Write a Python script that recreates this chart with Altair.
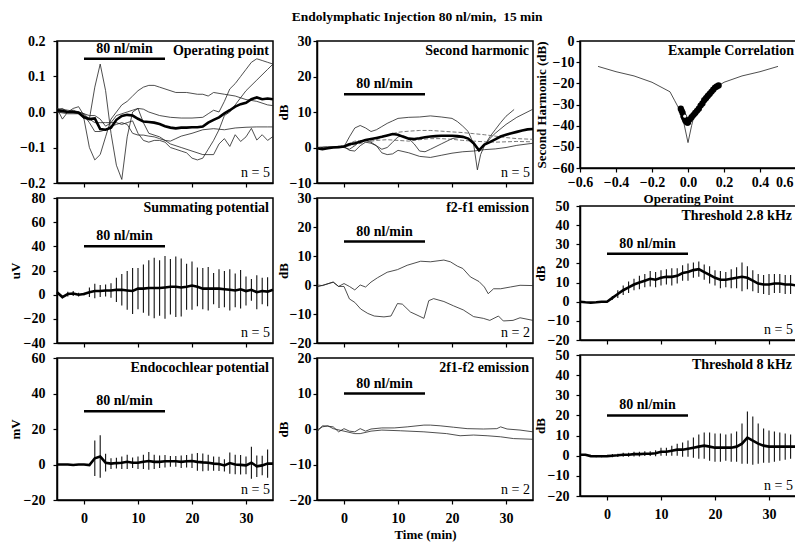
import altair as alt
import pandas as pd

FONT = "Liberation Serif"
PW = 216
LFS = 14   # tick label / annotation font size
TFS = 13   # axis title font size

TITLE = "Endolymphatic Injection 80 nl/min,\u00a0 15 min"
T = list(range(-5, 36))  # minutes

# ---------------- Operating point ----------------
op_mean = [0.005, 0.003, 0.0, 0.0, -0.002, -0.015, -0.02, -0.018, -0.048, -0.05, -0.044,
           -0.022, -0.011, -0.008, -0.01, -0.019, -0.027, -0.028, -0.03, -0.034, -0.04,
           -0.044, -0.046, -0.044, -0.044, -0.043, -0.043, -0.041, -0.03, -0.022, -0.015,
           -0.004, 0.005, 0.015, 0.022, 0.026, 0.036, 0.041, 0.036, 0.038, 0.036]
op_l1_t = [-5, -4, -3, -2, -1, 0, 1, 2, 3, 4, 5, 6, 7, 8, 9, 10, 11, 12, 14, 16, 18, 20, 22, 24,
           25, 26, 27, 28, 29, 30, 31, 32, 33, 34, 35]
op_l1_v = [0.01, -0.02, 0.0, 0.01, 0.015, -0.01, -0.02, 0.07, 0.135, 0.06, -0.06, -0.15, -0.19,
           -0.07, 0.0, 0.01, -0.03, -0.06, -0.07, -0.09, -0.1, -0.11, -0.12, -0.12, -0.09, -0.075,
           -0.097, -0.064, -0.083, -0.07, -0.046, -0.079, -0.064, -0.08, -0.069]
op_l2_t = [-5, -4, -3, -2, -1, 0, 1, 2, 3, 4, 5, 6, 7, 8, 9, 10, 11, 12, 13, 14, 15, 17, 19, 21,
           22, 23, 24, 26, 28, 30, 32, 34, 35]
op_l2_v = [0.005, 0.01, 0.0, 0.005, 0.0, -0.02, -0.1, -0.135, -0.12, -0.07, -0.02, 0.0, 0.02,
           0.03, 0.045, 0.06, 0.07, 0.075, 0.075, 0.07, 0.065, 0.055, 0.055, 0.05, 0.05, 0.045,
           0.055, 0.05, 0.045, 0.035, 0.03, 0.02, 0.018]
op_l3_t = [-5, -3, -1, 0, 1, 2, 3, 4, 5, 6, 7, 8, 9, 10, 11, 12, 14, 16, 18, 20, 22, 23, 24, 25,
           26, 27, 28, 29, 30, 31, 32, 33, 34, 35]
op_l3_v = [0.01, 0.005, 0.0, -0.005, -0.01, -0.01, -0.02, -0.04, -0.03, -0.01, -0.005, 0.0,
           0.005, 0.01, 0.008, 0.0, -0.01, -0.015, -0.017, -0.017, -0.015, -0.005, 0.005, 0.0,
           0.03, 0.065, 0.08, 0.1, 0.12, 0.14, 0.15, 0.145, 0.14, 0.135]
op_l4_t = [-5, -3, -1, 0, 1, 2, 3, 4, 5, 6, 7, 8, 9, 10, 11, 12, 13, 14, 15, 16, 17, 18, 20, 22,
           24, 26, 28, 30, 32, 34, 35]
op_l4_v = [0.0, -0.005, -0.005, -0.01, -0.03, -0.055, -0.055, -0.05, -0.04, -0.035, -0.03,
           -0.035, -0.06, -0.065, -0.065, -0.068, -0.07, -0.075, -0.08, -0.082, -0.075, -0.068,
           -0.06, -0.05, -0.047, -0.05, -0.045, -0.043, -0.042, -0.042, -0.042]
op_l5_t = [-5, -3, -1, 0, 1, 2, 3, 4, 5, 6, 7, 8, 9, 10, 11, 12, 13, 14, 15, 16, 17, 18, 19, 20,
           21, 22, 23, 24, 25, 26, 27, 28, 30, 32, 34, 35]
op_l5_v = [0.0, 0.0, 0.0, -0.005, -0.02, -0.03, -0.03, -0.03, -0.03, -0.03, -0.035, -0.03,
           -0.025, -0.06, -0.08, -0.085, -0.08, -0.08, -0.085, -0.1, -0.105, -0.11, -0.115,
           -0.13, -0.135, -0.13, -0.105, -0.08, -0.05, -0.01, 0.0, 0.02, 0.06, 0.09, 0.12, 0.135]

# ---------------- Second harmonic ----------------
sh_mean = [-0.2, -0.5, -0.2, 0.0, 0.1, 0.3, 0.9, 1.2, 1.6, 2.1, 2.4, 2.7, 3.0, 3.4, 3.8, 3.6,
           3.0, 2.5, 2.4, 2.6, 2.9, 3.1, 3.2, 3.3, 3.3, 3.3, 3.2, 3.0, 2.5, 1.2, -0.8, 0.8, 1.5,
           2.3, 3.1, 3.6, 4.0, 4.4, 4.8, 5.1, 5.2]
sh_s1_t = [-5, -3, -1, 0, 1, 2, 3, 4, 5, 6, 7, 8, 9, 10, 12, 14, 16, 18, 20, 21, 22, 23, 24,
           24.7, 25.3, 26, 27, 28, 29, 30, 31.5]
sh_s1_v = [0, 0.2, 0.3, 0.2, 3.0, 5.5, 6.2, 5.5, 4.5, 5.0, 5.9, 6.8, 7.5, 8.2, 8.5, 8.6, 8.9,
           8.6, 8.2, 7.3, 6.0, 4.5, 1.0, -6.3, -2.0, 0.5, 3.0, 5.0, 7.0, 8.8, 10.7]
sh_s2_t = [-5, -2, 0, 2, 4, 6, 8, 10, 12, 14, 16, 18, 20, 22, 24, 26, 28, 30, 32, 35]
sh_s2_v = [0, 0.2, 0.5, 1.8, 2.0, 2.2, 3.5, 4.3, 4.6, 4.8, 4.8, 4.6, 4.4, 4.2, 3.9, 3.6, 3.2,
           2.8, 2.5, 2.3]
sh_s3_t = [-5, -2, 0, 1, 2, 3, 4, 5, 6, 7, 8, 9, 10, 11, 12, 13, 14, 15, 16, 18, 20, 22, 23,
           24, 25, 26, 27, 28, 30, 32, 35]
sh_s3_v = [0, 0.1, 0, -0.5, 0.5, 1.8, 2.0, 1.5, 0.5, -0.5, 0.0, 1.5, 3.0, 3.3, 2.5, 1.0, -1.0,
           -1.2, -0.5, 1.0, 2.5, 3.0, 2.5, 1.0, -1.0, 0.5, 2.5, 4.0, 6.5, 8.5, 10.8]
sh_s4_t = [-5, -2, 0, 1, 2, 3, 4, 5, 6, 7, 8, 9, 10, 12, 14, 16, 18, 20, 22, 24, 26, 28, 30,
           32, 35]
sh_s4_v = [0, 0, 0.3, -0.8, -1.0, 0.5, 1.5, 1.2, 0.5, -1.5, -2.0, -1.8, -0.8, -1.5, -2.5, -2.8,
           -2.2, -1.6, -1.2, -1.0, -0.6, -0.4, 0.0, 0.6, 1.2]
sh_s5_t = [-5, -2, 0, 2, 4, 6, 8, 10, 12, 14, 16, 18, 20, 22, 24, 26, 28, 30, 32, 35]
sh_s5_v = [0, 0, 0.2, 0.8, 1.5, 2.0, 2.2, 2.0, 1.8, 2.2, 2.5, 2.5, 2.3, 2.0, 1.8, 1.6, 1.5,
           1.6, 1.7, 1.6]

# ---------------- Summating potential ----------------
sp_mean = [2, -2, 0.5, 1, 0, 0.5, 2, 3, 3, 3.5, 3.5, 4, 4, 3.5, 3, 5, 5, 5.5, 5.5, 5.5, 6, 6.5,
           6.5, 6, 6.5, 7.5, 6.5, 5, 5, 5, 5, 4.5, 4, 3.5, 4.5, 3, 4, 2, 3, 2.5, 4]
sp_sd = [0, 1, 2, 2, 1.5, 1, 4, 6, 5, 5, 6, 10, 13, 16, 19, 17, 20, 23, 25, 23, 26, 23, 25, 24,
         19, 20, 16, 17, 18, 13, 16, 15, 17, 14, 16, 12, 9, 14, 11, 12, 0]

# ---------------- Endocochlear potential ----------------
ep_mean = [0, 0, 0, -0.3, 0, 0, -0.3, 3.5, 4.5, 1, 0.5, 0.8, 1, 1.5, 1, 1, 1.5, 2, 1.5, 1.5,
           1.8, 1.8, 1.8, 1.5, 1.8, 2, 1.5, 1.2, 1, 0.5, 0.3, -0.5, 0.8, 0, -0.2, -0.5, 1, -1,
           -0.5, 0.5, 0.5]
ep_sd = [0, 0, 0, 0, 0, 0, 0.5, 10, 12, 5, 3, 3, 3.5, 4, 3, 3.5, 4, 5, 4, 3.5, 3.5, 3, 3, 3.5,
         3.5, 4, 5, 5, 4.5, 4, 4, 3.5, 6, 5.5, 5.5, 5, 9, 6, 5.5, 8, 0]

# ---------------- Threshold 2.8 kHz ----------------
t28_mean = [0, -0.3, -0.5, -0.3, 0, 0, 2, 4, 6, 7.5, 9, 10, 11, 12, 11.5, 12.5, 13, 13, 13.5,
            15, 15.5, 16.5, 17, 15.5, 14, 12.5, 11.5, 11.5, 12, 12.5, 13, 12.5, 11, 9.5, 9, 9,
            9.5, 9.5, 9, 9, 8.5]
t28_sd = [0, 0, 0, 0, 0, 0, 1, 2, 2.5, 3, 3, 3.5, 3.5, 4, 4, 4, 4, 4.5, 4, 4, 4.5, 4, 4, 4,
          4.5, 4, 4.5, 4, 5, 5.5, 7.5, 6, 5.5, 5, 5, 5.5, 5, 5, 5, 5, 0]

# ---------------- Threshold 8 kHz ----------------
t8_mean = [0.5, 0.5, -0.2, -0.3, -0.3, -0.2, 0, 0.2, 0.5, 0.5, 0.8, 0.8, 1, 1, 1.2, 2, 2, 2.5,
           3, 3, 3.5, 4, 4.5, 5, 4.5, 4, 4, 4, 4, 4.5, 6, 9, 7.5, 6, 5, 4.5, 4.5, 4.5, 4.5, 4.5,
           4.5]
t8_sd = [0, 0, 0.5, 0.5, 0.5, 0.5, 0.8, 0.8, 1, 1, 1.2, 1.2, 1.2, 1.2, 1.5, 2, 2, 2.5, 3, 3.5,
         4, 5, 6, 6.5, 7, 7, 7, 6.5, 7, 7.5, 10, 13, 12, 10, 8.5, 8, 7.5, 7, 6.5, 6, 0]

# ---------------- f2-f1 emission ----------------
fa_t = [-5, -4, -2, -1, 0, 1, 2, 3, 4, 5, 6.2, 8, 9.9, 11.7, 14.2, 16, 18.5, 19.7, 21, 22, 23.4,
        25, 26, 26.7, 27.7, 29, 30.8, 32.6, 35]
fa_v = [0, -0.2, 1, -0.5, 0.5, -0.5, -1.7, 0, -0.7, 1, 2.5, 4.4, 5.3, 6.8, 8.2, 8, 8.6, 8, 6.5,
        5.7, 2.8, 1.2, -0.7, -3, -1.3, -1.3, -0.7, -0.1, -0.2]
fb_t = [-5, -2, -1, 0, 1, 2, 3.1, 4.4, 5.6, 7.4, 8.7, 9.9, 10.8, 12.3, 13.9, 14.8, 15.7, 16.6,
        18.5, 20.3, 22.1, 24, 25.8, 27, 28.6, 29.5, 31.3, 32.6, 35]
fb_v = [-0.7, 1, -0.5, -0.5, -4.8, -6, -8.3, -9.8, -10.7, -11, -10.7, -6.4, -6.6, -9.3, -10.7,
        -11.5, -5.4, -4.7, -5.7, -7.2, -8.6, -10.9, -11.5, -12.2, -10.7, -12.4, -12.2, -11.3,
        -12.2]

# ---------------- 2f1-f2 emission ----------------
da_t = [-5, -4, -3, -2, -1, 0, 1, 2, 3, 4, 5, 7, 9.3, 11.7, 14.8, 16, 17.8, 20.3, 22.8, 25.8,
        28.3, 29, 30.2, 32.6, 35]
da_v = [-0.8, 0.9, 0.8, 0.6, -0.8, 0.1, -0.6, -0.8, 0.1, -0.6, 0, 0.3, 0.3, 0.6, 1.1, 1.1, 0.9,
        0.5, 0.1, 0, 0.1, 0.6, 0, -0.3, -0.8]
db_t = [-5, -4, -3, -2, 0, 2, 3, 5, 7, 10.5, 14.8, 19, 21.5, 24, 26.5, 29, 31.4, 35]
db_v = [-0.3, 0.6, 0.9, 0.1, -0.6, -1.3, -1.3, -0.6, -0.3, -0.5, -0.8, -1.3, -1.9, -1.7, -1.9,
        -2.2, -2.7, -2.9]

# ---------------- Example correlation ----------------
cor_thin_x = [-0.5, -0.4, -0.3, -0.2, -0.1, -0.075, -0.05, -0.03, 0.0, 0.02, 0.04, 0.1, 0.2,
              0.3, 0.4, 0.5]
cor_thin_y = [-12, -14.5, -16.5, -19.5, -24, -28, -32, -36, -48, -40, -33, -25, -19.5, -16.5,
              -14.5, -12]
cor_dot_x = [-0.04, -0.035, -0.03, -0.025, -0.02, -0.015, -0.01, -0.005, 0.0, 0.01, 0.02, 0.03,
             0.04, 0.05, 0.06, 0.07, 0.08, 0.09, 0.10, 0.11, 0.12, 0.13, 0.14, 0.15, 0.16, 0.17]
cor_dot_y = [-32, -33, -34, -35.5, -36.5, -37.5, -38, -38.5, -38.5, -37, -36, -35, -34, -33, -32,
             -30.5, -29.5, -28, -27, -26, -25, -24, -23, -22, -21.5, -21]
cor_hollow_x = [-0.018]
cor_hollow_y = [-35.5]


# ---------------- helpers ----------------
def series_df(pairs):
    rows = []
    for i, (ts, vs) in enumerate(pairs):
        for k, (t, v) in enumerate(zip(ts, vs)):
            rows.append({"t": t, "v": v, "s": f"s{i}", "o": k})
    return pd.DataFrame(rows)


def xenc(bottom, title, lpad):
    ax = dict(values=[0, 10, 20, 30], labels=bottom, labelPadding=lpad, titlePadding=3)
    ax["title"] = title if title else None
    return alt.X("t:Q", scale=alt.Scale(domain=[-5, 35], nice=False, zero=False), axis=alt.Axis(**ax))


def yenc(field, dom, ticks, title, fmt, lpad, tpad):
    return alt.Y(f"{field}:Q", scale=alt.Scale(domain=dom, nice=False, zero=False),
                 axis=alt.Axis(values=ticks, title=title, format=fmt, labelPadding=lpad,
                               titlePadding=tpad))


def annotations(X, Y, dom, label, ntext, bar_y):
    lab = pd.DataFrame({"t": [35], "v": [dom[1]], "txt": [label]})
    nn = pd.DataFrame({"t": [35], "v": [dom[0]], "txt": [ntext]})
    bar = pd.DataFrame({"t": [0], "t2": [15], "v": [bar_y]})
    bar_txt = pd.DataFrame({"t": [7.5], "v": [bar_y], "txt": ["80 nl/min"]})
    layers = [
        alt.Chart(lab).mark_text(align="right", baseline="top", dx=-4, dy=3, font=FONT,
                                 fontWeight="bold", fontSize=LFS, color="black")
        .encode(x=X, y=Y("v"), text="txt:N"),
        alt.Chart(bar).mark_rule(color="black", strokeWidth=2.5)
        .encode(x=X, x2="t2:Q", y=Y("v")),
        alt.Chart(bar_txt).mark_text(baseline="bottom", dy=-3, font=FONT, fontWeight="bold",
                                     fontSize=LFS, color="black")
        .encode(x=X, y=Y("v"), text="txt:N"),
    ]
    if ntext:
        layers.append(
            alt.Chart(nn).mark_text(align="right", baseline="bottom", dx=-3, dy=-3, font=FONT,
                                    fontSize=LFS, color="black")
            .encode(x=X, y=Y("v"), text="txt:N"))
    return layers


COLPAD = {0: (8, 1), 1: (2, -1), 2: (7, 0)}


def time_panel(h, dom, ticks, ytitle, fmt, label, ntext, bar_y, bottom, xtitle, col,
               mean=None, sd=None, thin=None, thin_dash=None):
    lp, tp = COLPAD[col]
    X = xenc(bottom, xtitle, 7)

    def Y(f):
        return yenc(f, dom, ticks, ytitle, fmt, lp, tp)

    layers = []
    if thin is not None:
        df = series_df(thin)
        layers.append(alt.Chart(df).mark_line(color="#222", strokeWidth=0.8)
                      .encode(x=X, y=Y("v"), detail="s:N", order="o:Q"))
    if thin_dash is not None:
        df = series_df(thin_dash)
        layers.append(alt.Chart(df).mark_line(color="#555", strokeWidth=0.8, strokeDash=[4, 2])
                      .encode(x=X, y=Y("v"), detail="s:N", order="o:Q"))
    if sd is not None:
        dfe = pd.DataFrame({"t": T, "m": mean, "sd": sd})
        dfe = dfe[dfe["sd"] > 0].copy()
        dfe["lo"] = dfe["m"] - dfe["sd"]
        dfe["hi"] = dfe["m"] + dfe["sd"]
        layers.append(alt.Chart(dfe).mark_rule(color="#111", strokeWidth=1.1)
                      .encode(x=X, y=Y("lo"), y2="hi:Q"))
    if mean is not None:
        dfm = pd.DataFrame({"t": T, "v": mean})
        layers.append(alt.Chart(dfm).mark_line(color="black", strokeWidth=2.6)
                      .encode(x=X, y=Y("v")))
    layers += annotations(X, Y, dom, label, ntext, bar_y)
    return alt.layer(*layers).properties(width=PW, height=h)


p_op = time_panel(142, [-0.2, 0.2], [-0.2, -0.1, 0.0, 0.1, 0.2], None, ".1f",
                  "Operating point", "n = 5", 0.15, False, None, 0, mean=op_mean,
                  thin=[(op_l1_t, op_l1_v), (op_l2_t, op_l2_v), (op_l3_t, op_l3_v),
                        (op_l4_t, op_l4_v), (op_l5_t, op_l5_v)])
p_sp = time_panel(145, [-40, 80], [-40, -20, 0, 20, 40, 60, 80], "uV", "d",
                  "Summating potential", "n = 5", 40, False, None, 0, mean=sp_mean, sd=sp_sd)
p_ep = time_panel(142, [-20, 60], [-20, 0, 20, 40, 60], "mV", "d",
                  "Endocochlear potential", "n = 5", 30, True, None, 0, mean=ep_mean, sd=ep_sd)

p_sh = time_panel(142, [-10, 30], [-10, 0, 10, 20, 30], "dB", "d",
                  "Second harmonic", "n = 5", 15, False, None, 1, mean=sh_mean,
                  thin=[(sh_s1_t, sh_s1_v), (sh_s3_t, sh_s3_v), (sh_s4_t, sh_s4_v)],
                  thin_dash=[(sh_s2_t, sh_s2_v), (sh_s5_t, sh_s5_v)])
p_f21 = time_panel(145, [-20, 30], [-20, -10, 0, 10, 20, 30], "dB", "d",
                   "f2-f1 emission", "n = 2", 15, False, None, 1,
                   thin=[(fa_t, fa_v), (fb_t, fb_v)])
p_2f = time_panel(142, [-20, 20], [-20, -10, 0, 10, 20], "dB", "d",
                  "2f1-f2 emission", "n = 2", 10, True, "Time (min)", 1,
                  thin=[(da_t, da_v), (db_t, db_v)])

p_t28 = time_panel(134, [-20, 50], [-20, -10, 0, 10, 20, 30, 40, 50], "dB", "d",
                   "Threshold 2.8 kHz", "n = 5", 25, False, None, 2, mean=t28_mean, sd=t28_sd)
p_t8 = time_panel(141, [-20, 50], [-20, -10, 0, 10, 20, 30, 40, 50], "dB", "d",
                  "Threshold 8 kHz", "n = 5", 20, True, None, 2, mean=t8_mean, sd=t8_sd)

# correlation panel
CX = alt.X("x:Q", scale=alt.Scale(domain=[-0.6, 0.6], nice=False, zero=False),
           axis=alt.Axis(values=[-0.6, -0.4, -0.2, 0.0, 0.2, 0.4, 0.6], format=".1f",
                         title="Operating Point", labelPadding=3, titlePadding=3,
                         labelAlign={"condition": {"test": "datum.value > 0.55", "value": "right"},
                                     "value": "center"},
                         labelOffset={"condition": {"test": "datum.value > 0.55", "value": -3},
                                      "value": 0}))


def CY(f):
    return alt.Y(f"{f}:Q", scale=alt.Scale(domain=[-60, 0], nice=False, zero=False),
                 axis=alt.Axis(values=[-60, -50, -40, -30, -20, -10, 0],
                               title="Second Harmonic (dB)", labelPadding=2, titlePadding=4))


thin_df = pd.DataFrame({"x": cor_thin_x, "y": cor_thin_y})
dot_df = pd.DataFrame({"x": cor_dot_x, "y": cor_dot_y})
hol_df = pd.DataFrame({"x": cor_hollow_x, "y": cor_hollow_y})
cor_lab = pd.DataFrame({"x": [0.6], "y": [0], "txt": ["Example Correlation"]})
p_cor = alt.layer(
    alt.Chart(thin_df).mark_line(color="#222", strokeWidth=0.8).encode(x=CX, y=CY("y")),
    alt.Chart(dot_df).mark_line(color="black", strokeWidth=4).encode(x=CX, y=CY("y")),
    alt.Chart(dot_df).mark_circle(color="black", size=40, opacity=1).encode(x=CX, y=CY("y")),
    alt.Chart(hol_df).mark_circle(color="white", size=10, opacity=1).encode(x=CX, y=CY("y")),
    alt.Chart(cor_lab).mark_text(align="right", baseline="top", dx=-2, dy=3, font=FONT,
                                 fontWeight="bold", fontSize=LFS, color="black")
    .encode(x=CX, y=CY("y"), text="txt:N"),
).properties(width=PW, height=127)

col1 = alt.vconcat(p_op, p_sp, p_ep, spacing=15, bounds="flush")
col2 = alt.vconcat(p_sh, p_f21, p_2f, spacing=15, bounds="flush")
col3 = alt.vconcat(p_cor, alt.vconcat(p_t28, p_t8, spacing=15, bounds="flush"), spacing=-8)

left_pair = alt.hconcat(col1, col2, spacing=-3)

chart = (
    alt.hconcat(left_pair, col3, spacing=-6)
    .properties(title=alt.TitleParams(TITLE, anchor="middle", offset=10, dx=12),
                padding={"left": 0, "top": 1, "right": -7, "bottom": 2})
    .configure_axis(labelFont=FONT, titleFont=FONT, labelFontSize=LFS, titleFontSize=TFS,
                    labelFontWeight="bold", titleFontWeight="bold", labelColor="black",
                    titleColor="black", domainColor="black", tickColor="black", grid=False,
                    tickSize=4, domainWidth=1.5, tickWidth=1.2, labelFlush=False,
                    labelOverlap=False)
    .configure_view(stroke="black", strokeWidth=1.5)
    .configure_title(font=FONT, fontSize=13.5, fontWeight="bold", color="black")
)

chart.save("out.html", embed_options={"renderer": "svg", "actions": False})
